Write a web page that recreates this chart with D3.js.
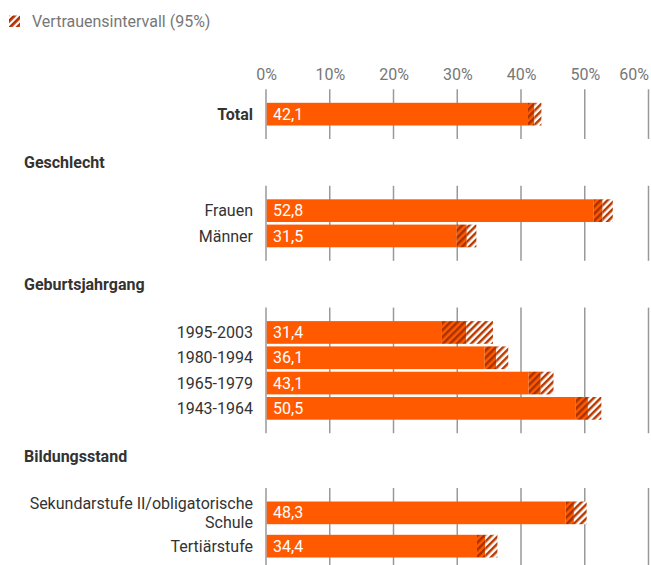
<!DOCTYPE html>
<html>
<head>
<meta charset="utf-8">
<script src="https://cdn.jsdelivr.net/npm/d3@7"></script>
<style>
  body { margin: 0; background: #fff; }
  svg { display: block; font-family: Roboto, "Noto Sans", sans-serif; }
</style>
</head>
<body>
<div class="chart"></div>
<script>

const groups = ['', 'Geschlecht', 'Geburtsjahrgang', 'Bildungsstand'];
const categories = ['Total', 'Frauen', 'Männer', '1995-2003', '1980-1994', '1965-1979', '1943-1964',
    'Sekundarstufe II/obligatorische|Schule', 'Tertiärstufe'];
const groupOf = [0, 1, 1, 2, 2, 2, 2, 3, 3];
const values = [42.1, 52.8, 31.5, 31.4, 36.1, 43.1, 50.5, 48.3, 34.4];
const ciLow = [41.1, 51.4, 29.9, 27.6, 34.3, 41.2, 48.6, 47.0, 33.1];
const ciHigh = [43.2, 54.4, 33.0, 35.6, 38.0, 45.1, 52.6, 50.3, 36.3];
const ticks = [0, 10, 20, 30, 40, 50, 60];

const width = 651;
const height = 565;
const barH = 22.7;
const pitch = 25.3;
const fontSize = 16;
const orange = '#ff5a00';
const hatch = '#a83200';

buildChart();

function buildChart() {

    const svg = d3.select('.chart')
        .append('svg')
        .attr('width', width)
        .attr('height', height);

    const x = d3.scaleLinear()
        .domain([0, 60])
        .range([266, 648.5]);

    // layout rows per group
    const rows = categories.map((c, i) => ({
        label: c.split('|'),
        group: groupOf[i],
        value: values[i],
        lo: ciLow[i],
        hi: ciHigh[i]
    }));

    const blocks = [];
    let cursor = 89.3;
    groups.forEach((g, gi) => {
        const items = rows.filter(r => r.group === gi);
        let headerY = null;
        if (g) {
            headerY = cursor + 23.3;
            cursor = headerY + 23.5 + (items[0].label.length - 1) * 8;
        }
        const gridTop = cursor;
        let by = gridTop + 13.5;
        items.forEach((r) => {
            r.y = by;
            by += pitch + (r.label.length - 1) * 8;
        });
        const gridBottom = items[items.length - 1].y + barH + 13.5;
        blocks.push({ name: g, headerY, gridTop, gridBottom });
        cursor = gridBottom;
    });

    const y = d3.scaleOrdinal()
        .domain(categories)
        .range(rows.map(r => r.y));

    // patterns
    const defs = svg.append('defs');

    function stripes(id, bg, fg, size, w) {
        const p = defs.append('pattern')
            .attr('id', id)
            .attr('patternUnits', 'userSpaceOnUse')
            .attr('width', size)
            .attr('height', size)
            .attr('patternTransform', 'rotate(45)');
        p.append('rect')
            .attr('width', size)
            .attr('height', size)
            .attr('fill', bg);
        p.append('rect')
            .attr('width', w)
            .attr('height', size)
            .attr('fill', fg);
    }
    stripes('hatch-dark', orange, hatch, 5, 2.5);
    stripes('hatch-light', '#fff', '#b83a00', 5, 2.5);
    stripes('hatch-legend', '#fff', '#b33000', 5, 2.8);

    // legend
    svg.append('rect')
        .attr('x', 9)
        .attr('y', 15.5)
        .attr('width', 11)
        .attr('height', 11.5)
        .attr('fill', 'url(#hatch-legend)');

    svg.append('text')
        .attr('x', 32)
        .attr('y', 21)
        .attr('dy', '0.35em')
        .attr('font-size', fontSize)
        .attr('fill', '#777')
        .text('Vertrauensintervall (95%)');

    // axis
    const axis = svg.append('g')
        .attr('transform', 'translate(0, 80)')
        .call(d3.axisTop(x).tickValues(ticks).tickFormat(d => d + '%').tickSize(0).tickPadding(0));
    axis.select('.domain').remove();
    axis.selectAll('text')
        .attr('font-family', 'Roboto, sans-serif')
        .attr('font-size', fontSize)
        .attr('fill', '#777')
        .attr('text-anchor', (d, i) => i === ticks.length - 1 ? 'end' : 'middle');

    // group headers and grid
    blocks.forEach((b) => {
        if (b.name) {
            svg.append('text')
                .attr('x', 24)
                .attr('y', b.headerY)
                .attr('dy', '0.35em')
                .attr('font-size', fontSize)
                .attr('font-weight', 'bold')
                .attr('fill', '#333')
                .text(b.name);
        }
        svg.append('g')
            .selectAll('line')
            .data(ticks)
            .enter()
            .append('line')
            .attr('x1', d => x(d))
            .attr('x2', d => x(d))
            .attr('y1', b.gridTop)
            .attr('y2', b.gridBottom)
            .attr('stroke', '#999')
            .attr('stroke-width', 1.5);
    });

    const bars = svg.append('g')
        .selectAll('g')
        .data(rows)
        .enter()
        .append('g');

    bars.append('rect')
        .attr('x', x(0) + 0.75)
        .attr('y', d => y(d.label.join('|')))
        .attr('width', d => x(d.lo) - x(0) - 0.75)
        .attr('height', barH)
        .attr('fill', orange);

    bars.append('rect')
        .attr('x', d => x(d.lo))
        .attr('y', d => y(d.label.join('|')))
        .attr('width', d => x(d.value) - x(d.lo))
        .attr('height', barH)
        .attr('fill', 'url(#hatch-dark)');

    bars.append('rect')
        .attr('x', d => x(d.value))
        .attr('y', d => y(d.label.join('|')))
        .attr('width', d => x(d.hi) - x(d.value))
        .attr('height', barH)
        .attr('fill', 'url(#hatch-light)');

    bars.append('text')
        .attr('x', 273)
        .attr('y', d => y(d.label.join('|')) + barH / 2)
        .attr('dy', '0.35em')
        .attr('font-size', fontSize)
        .attr('fill', '#fff')
        .text(d => d.value.toFixed(1).replace('.', ','));

    // category labels
    const lineH = 18.7;
    bars.append('text')
        .attr('x', 253)
        .attr('y', d => y(d.label.join('|')) + barH / 2 - (d.label.length - 1) * lineH / 2)
        .attr('text-anchor', 'end')
        .attr('font-size', fontSize)
        .attr('fill', '#333')
        .attr('font-weight', d => d.label[0] === 'Total' ? 'bold' : 'normal')
        .each(function (d) {
            d3.select(this)
                .selectAll('tspan')
                .data(d.label)
                .enter()
                .append('tspan')
                .attr('x', 253)
                .attr('dy', (t, i) => i === 0 ? '0.35em' : lineH)
                .text(t => t);
        });

}

</script>
</body>
</html>
